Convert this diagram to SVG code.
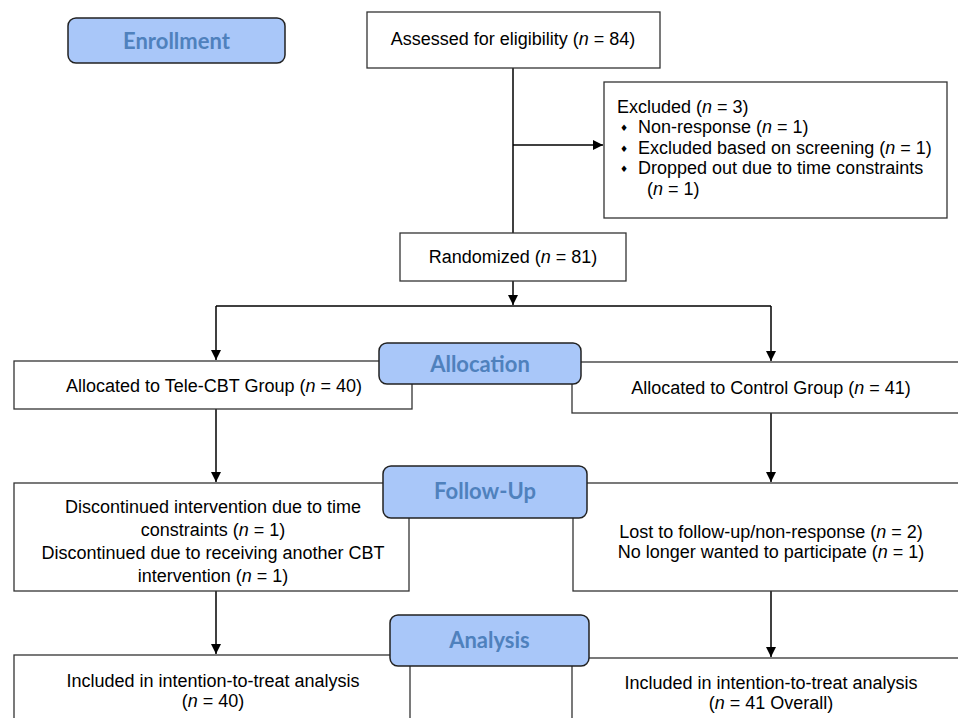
<svg xmlns="http://www.w3.org/2000/svg" width="958" height="718" viewBox="0 0 958 718">
<defs>
<marker id="ah" viewBox="0 0 10 10" refX="10" refY="5" markerWidth="10" markerHeight="10" markerUnits="userSpaceOnUse" orient="auto">
<path d="M0,0 L10,5 L0,10 z" fill="#000"/>
</marker>
<style>
.box{fill:#fff;stroke:#333;stroke-width:1.3}
.lbl{fill:#a9c7f9;stroke:#222;stroke-width:1.5}
.lt{font-family:Lato,"Open Sans",sans-serif;font-weight:bold;font-size:22px;fill:#4f81bd;text-anchor:middle}
.t{font-family:"Liberation Sans",Arial,sans-serif;font-size:18px;fill:#000}
.c{text-anchor:middle}
.bul{font-family:"DejaVu Sans",sans-serif;font-size:9px;fill:#000}
.ln{fill:none;stroke:#000;stroke-width:1.5}
.it{font-style:italic}
</style>
</defs>

<g id="connectors">
<path class="ln" d="M513,68 V233"/>
<path class="ln" d="M513,145 H603" marker-end="url(#ah)"/>
<path class="ln" d="M513,281 V305" marker-end="url(#ah)"/>
<path class="ln" d="M216,306 H771"/>
<path class="ln" d="M216,306 V360" marker-end="url(#ah)"/>
<path class="ln" d="M771,306 V361" marker-end="url(#ah)"/>
<path class="ln" d="M216,409 V482" marker-end="url(#ah)"/>
<path class="ln" d="M771,413 V482" marker-end="url(#ah)"/>
<path class="ln" d="M216,591 V654" marker-end="url(#ah)"/>
<path class="ln" d="M771,591 V657" marker-end="url(#ah)"/>
</g>

<g id="assessed">
<rect class="box" x="367" y="12" width="293" height="56"/>
<text class="t c" x="513" y="45">Assessed for eligibility (<tspan class="it">n</tspan> = 84)</text>
</g>

<g id="excluded">
<rect class="box" x="604" y="82" width="343" height="136"/>
<text class="t" x="617" y="113">Excluded (<tspan class="it">n</tspan> = 3)</text>
<text class="bul" x="620" y="131">♦</text>
<text class="t" x="638" y="133">Non-response (<tspan class="it">n</tspan> = 1)</text>
<text class="bul" x="620" y="152">♦</text>
<text class="t" x="638" y="154">Excluded based on screening (<tspan class="it">n</tspan> = 1)</text>
<text class="bul" x="620" y="172">♦</text>
<text class="t" x="638" y="174">Dropped out due to time constraints</text>
<text class="t" x="647" y="195">(<tspan class="it">n</tspan> = 1)</text>
</g>

<g id="randomized">
<rect class="box" x="400" y="233" width="226" height="48"/>
<text class="t c" x="513" y="263">Randomized (<tspan class="it">n</tspan> = 81)</text>
</g>

<g id="alloc-tele">
<rect class="box" x="14" y="361" width="398" height="48"/>
<text class="t c" x="214" y="392">Allocated to Tele-CBT Group (<tspan class="it">n</tspan> = 40)</text>
</g>

<g id="alloc-control">
<rect class="box" x="572" y="362" width="392" height="51"/>
<text class="t c" x="771" y="394">Allocated to Control Group (<tspan class="it">n</tspan> = 41)</text>
</g>

<g id="fu-tele">
<rect class="box" x="14" y="483" width="395" height="108"/>
<text class="t c" x="213" y="513">Discontinued intervention due to time</text>
<text class="t c" x="213" y="536">constraints (<tspan class="it">n</tspan> = 1)</text>
<text class="t c" x="213" y="559">Discontinued due to receiving another CBT</text>
<text class="t c" x="213" y="582">intervention (<tspan class="it">n</tspan> = 1)</text>
</g>

<g id="fu-control">
<rect class="box" x="573" y="483" width="391" height="108"/>
<text class="t c" x="771" y="538">Lost to follow-up/non-response (<tspan class="it">n</tspan> = 2)</text>
<text class="t c" x="771" y="558">No longer wanted to participate (<tspan class="it">n</tspan> = 1)</text>
</g>

<g id="an-tele">
<rect class="box" x="14" y="655" width="396" height="80"/>
<text class="t c" x="213" y="687">Included in intention-to-treat analysis</text>
<text class="t c" x="213" y="707">(<tspan class="it">n</tspan> = 40)</text>
</g>

<g id="an-control">
<rect class="box" x="572" y="658" width="392" height="80"/>
<text class="t c" x="771" y="689">Included in intention-to-treat analysis</text>
<text class="t c" x="771" y="709">(<tspan class="it">n</tspan> = 41 Overall)</text>
</g>

<g id="enrollment">
<rect class="lbl" x="68" y="18" width="217" height="45" rx="8"/>
<text class="lt" x="176.5" y="49">Enrollment</text>
</g>

<g id="allocation">
<rect class="lbl" x="379" y="343" width="202" height="41" rx="8"/>
<text class="lt" x="480" y="372">Allocation</text>
</g>

<g id="followup">
<rect class="lbl" x="383" y="466" width="204" height="52" rx="8"/>
<text class="lt" x="485" y="499">Follow-Up</text>
</g>

<g id="analysis">
<rect class="lbl" x="390" y="615" width="199" height="51" rx="8"/>
<text class="lt" x="489.5" y="648">Analysis</text>
</g>
</svg>
